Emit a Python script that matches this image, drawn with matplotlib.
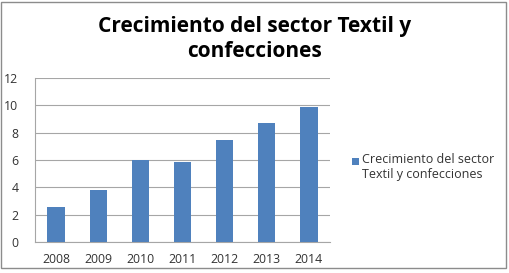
import matplotlib
matplotlib.use('Agg')
import matplotlib.pyplot as plt
from matplotlib.patches import Rectangle

years = ['2008', '2009', '2010', '2011', '2012', '2013', '2014']
values = [2.55, 3.8, 6.0, 5.83, 7.5, 8.68, 9.9]
series_name = 'Crecimiento del sector\nTextil y confecciones'
title = 'Crecimiento del sector Textil y\nconfecciones'

plt.rcParams['font.family'] = ['Open Sans', 'DejaVu Sans']
BLUE = '#4F81BD'
GRID = '#a6a6a6'

fig = plt.figure(figsize=(5.1, 2.73), dpi=100)
fig.patches.append(Rectangle((1.5/510, 5/273), 505/510, 266/273, transform=fig.transFigure,
                             fill=False, edgecolor='#8c8c8c', linewidth=1.0))
ax = fig.add_axes([35/510, 1 - 242/273, 295/510, 164/273])

x = range(len(years))
bars = ax.bar(x, values, width=0.41, color=BLUE, zorder=3)
ax.set_xlim(-0.5, len(years) - 0.5)
ax.set_ylim(0, 12)
ax.set_yticks(range(0, 13, 2))
ax.set_xticks(list(x))
ax.set_xticklabels(years)
ax.tick_params(axis='x', length=0, labelsize=8.8, colors='#333333', pad=8)
ax.tick_params(axis='y', length=0, labelsize=8.8, colors='#333333', pad=12)
ax.grid(axis='y', color=GRID, linewidth=0.8, zorder=0)
for s in ['top', 'right']:
    ax.spines[s].set_visible(False)
ax.spines['left'].set_color(GRID)
ax.spines['bottom'].set_color(GRID)

fig.text(0.5, 1 - 39/273, title, ha='center', va='center', fontsize=15,
         fontweight='bold', linespacing=1.22)

# legend: square aligned with first line, text wrapped under it
fig.patches.append(Rectangle((352/510, 1 - 164.5/273), 7/510, 7/273, transform=fig.transFigure,
                             facecolor=BLUE, edgecolor='none'))
fig.text(362/510, 1 - 153/273, series_name, ha='left', va='top', fontsize=9,
         color='#333333', linespacing=1.2)

fig.savefig('out.png', dpi=100)
